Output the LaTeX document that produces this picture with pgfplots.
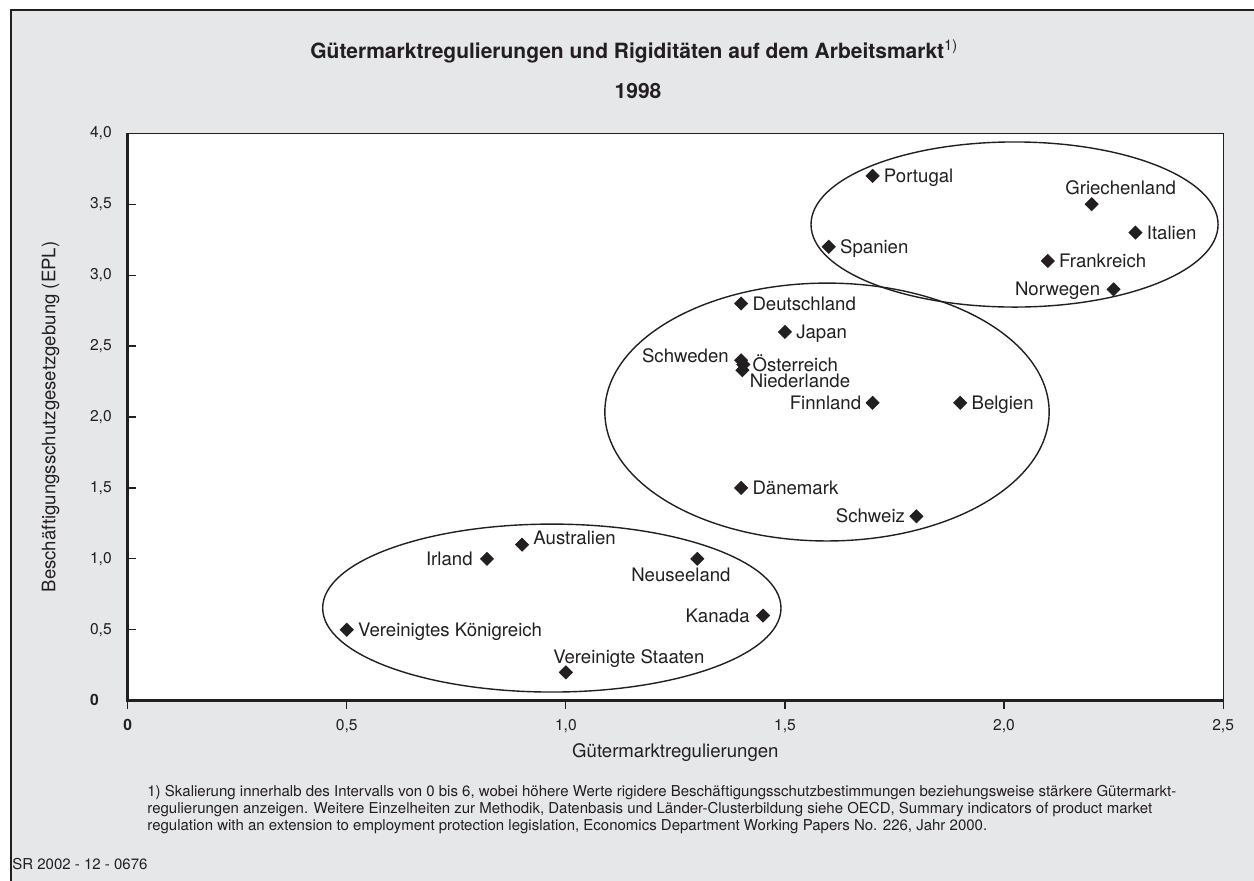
\documentclass[border=0pt]{standalone}
\usepackage{fontspec}
\setmainfont{TeX Gyre Heros}
\usepackage{pgfplots}
\pgfplotsset{compat=1.18}
\definecolor{bg}{HTML}{E6E7E8}
\definecolor{ink}{HTML}{231F20}

\begin{document}
\begin{tikzpicture}
% 1 px of the reference = 0.5pt
\path[use as bounding box] (0,0) rectangle (627pt,-440.5pt);
\fill[white] (0,0) rectangle (627pt,-440.5pt);
\fill[bg] (5.25pt,-5.25pt) rectangle (627pt,-440.5pt);
\draw[ink, line width=1pt] (5.25pt,-440.5pt) -- (5.25pt,-5.25pt) -- (627pt,-5.25pt);

\begin{axis}[
    at={(63.85pt,-350.35pt)}, anchor=south west,
    scale only axis, width=547.7pt, height=283.7pt,
    xmin=0, xmax=2.5, ymin=0, ymax=4,
    xtick={0,0.5,1,1.5,2,2.5},
    ytick={0,0.5,1,1.5,2,2.5,3,3.5,4},
    xticklabels={\textbf{0},{0,5},{1,0},{1,5},{2,0},{2,5}},
    yticklabels={\textbf{0}\phantom{,0},{0,5},{1,0},{1,5},{2,0},{2,5},{3,0},{3,5},{4,0}},
    tick align=inside, xtick pos=bottom, ytick pos=left,
    major tick length=4pt,
    tick style={ink, line width=0.6pt},
    major x tick style={yshift=-4pt},
    axis line style={ink, line width=0.6pt},
    axis background/.style={fill=white},
    clip=false,
    ticklabel style={font=\fontsize{7.8}{9}\selectfont, text=ink, inner sep=0pt},
    xticklabel style={anchor=north, yshift=-9pt},
    yticklabel style={anchor=east, xshift=-7.8pt},
    xlabel={Gütermarktregulierungen},
    every axis x label/.style={at={(rel axis cs:0.5,0)}, anchor=base, yshift=-28.2pt,
        font=\fontsize{9.3}{11}\selectfont, text=ink},
]
\draw[ink, line width=0.7pt] (axis cs:2.024,3.357) ellipse [x radius=0.4645, y radius=0.582];
\draw[ink, line width=0.7pt] (axis cs:1.596,2.035) ellipse [x radius=0.507, y radius=0.909];
\draw[ink, line width=0.7pt] (axis cs:0.968,0.653) ellipse [x radius=0.523, y radius=0.592];

% x; y; label anchor; label shift (pt); name
\addplot[only marks, mark=square*, mark size=2.3pt,
    mark options={rotate=45, fill=ink, draw=ink},
    point meta=explicit symbolic,
    visualization depends on={value \thisrow{anc} \as \lanc},
    visualization depends on={\thisrow{dx} \as \ldx},
    visualization depends on={\thisrow{dy} \as \ldy},
    nodes near coords={\pgfplotspointmeta},
    every node near coord/.append style={anchor=\lanc, xshift=\ldx pt, yshift=\ldy pt,
        inner sep=0pt, font=\fontsize{9.3}{11}\selectfont, text=ink},
] table[x=x, y=y, meta=label, col sep=semicolon] {
x;y;anc;dx;dy;label
1.7;3.7;base west;5.5;-3.3;Portugal
2.2;3.5;base;14.5;5;Griechenland
2.3;3.3;base west;5.5;-3.3;Italien
1.6;3.2;base west;5.5;-3.3;Spanien
2.1;3.1;base west;5.5;-3.3;Frankreich
2.25;2.9;base east;-6.5;-3.3;Norwegen
1.4;2.8;base west;5.5;-3.3;Deutschland
1.5;2.6;base west;5.5;-3.3;Japan
1.4;2.4;base east;-6;-1;Schweden
1.405;2.37;base west;4.5;-3.3;Österreich
1.403;2.33;base west;3.5;-8.5;Niederlande
1.7;2.1;base east;-5.5;-3.3;Finnland
1.9;2.1;base west;5.5;-3.3;Belgien
1.4;1.5;base west;5.5;-3.3;Dänemark
1.8;1.3;base east;-5.5;-3.3;Schweiz
0.82;1.0;base east;-7;-3.3;Irland
0.9;1.1;base west;5.5;0;Australien
1.3;1.0;base;-8.2;-11.5;Neuseeland
1.45;0.6;base east;-6.5;-3.3;Kanada
0.5;0.5;base west;5.5;-3.3;Vereinigtes Königreich
1.0;0.2;base west;-6.5;4.5;Vereinigte Staaten
};

\draw[ink, line width=1.5pt] (rel axis cs:0,1) -- (rel axis cs:0,0) -- (rel axis cs:1,0);
\end{axis}

\node[rotate=90, anchor=base, text=ink, font=\fontsize{9.3}{11}\selectfont] at (27.7pt,-208.5pt)
    {Beschäftigungsschutzgesetzgebung (EPL)};

\node[anchor=base west, inner sep=0pt, text=ink, font=\fontsize{10.5}{12}\selectfont\bfseries] at (155pt,-29.3pt)
    {Gütermarktregulierungen und Rigiditäten auf dem Arbeitsmarkt\textsuperscript{\mdseries 1)}};
\node[anchor=base, inner sep=0pt, text=ink, font=\fontsize{10.5}{12}\selectfont\bfseries] at (319pt,-49.3pt) {1998};

\begin{scope}[every node/.style={anchor=base west, text=ink, inner sep=0pt, font=\fontsize{7.5}{9}\selectfont}]
\node at (73.5pt,-398.5pt) {1) Skalierung innerhalb des Intervalls von 0 bis 6, wobei höhere Werte rigidere Beschäftigungsschutzbestimmungen beziehungsweise stärkere Gütermarkt-};
\node at (73.5pt,-407pt) {regulierungen anzeigen. Weitere Einzelheiten zur Methodik, Datenbasis und Länder-Clusterbildung siehe OECD, Summary indicators of product market};
\node at (73.5pt,-415.5pt) {regulation with an extension to employment protection legislation, Economics Department Working Papers No. 226, Jahr 2000.};
\node at (6pt,-435pt) {SR 2002 - 12 - 0676};
\end{scope}
\end{tikzpicture}
\end{document}
